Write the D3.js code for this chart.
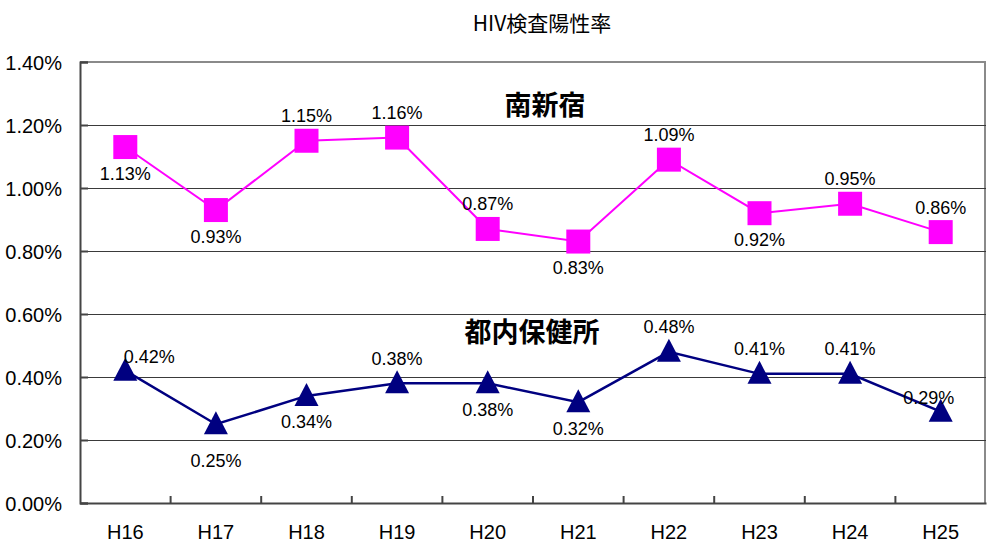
<!DOCTYPE html>
<html>
<head>
<meta charset="utf-8">
<script src="https://cdn.jsdelivr.net/npm/d3@7"></script>
<style>
  body { margin: 0; background: #fff; }
  text { font-family: "Liberation Sans Narrow", "Liberation Sans", Arial, sans-serif; fill: #000; }
  .jp { font-family: "Noto Sans CJK JP", "Noto Sans", sans-serif; }
</style>
</head>
<body>
<div class="chart"></div>
<script>
// data (percent)
var years = ["H16", "H17", "H18", "H19", "H20", "H21", "H22", "H23", "H24", "H25"];
var minamiShinjuku = [1.13, 0.93, 1.15, 1.16, 0.87, 0.83, 1.09, 0.92, 0.95, 0.86];
var tonaiHokenjo = [0.42, 0.25, 0.34, 0.38, 0.38, 0.32, 0.48, 0.41, 0.41, 0.29];
var yTicks = [0, 0.2, 0.4, 0.6, 0.8, 1.0, 1.2, 1.4];

// where each value label sits relative to its marker
var pinkLabelPos = ["below", "below", "above", "above", "above", "below", "above", "below", "above", "above"];
var navyLabelPos = ["aboveRight", "belowFar", "below", "above", "below", "below", "above", "above", "above", "aboveLeft"];

var svgWidth = 991;
var svgHeight = 545;

var margin = { top: 62, right: 5, bottom: 42, left: 80 };
var width = svgWidth - margin.left - margin.right;
var height = svgHeight - margin.top - margin.bottom;

var svg = d3.select(".chart")
  .append("svg")
  .attr("width", svgWidth)
  .attr("height", svgHeight);

var chartGroup = svg.append("g")
  .attr("transform", `translate(${margin.left}, ${margin.top})`);

var xScale = d3.scaleBand()
  .domain(years)
  .range([0, width]);

var yScale = d3.scaleLinear()
  .domain([0, 1.4])
  .range([height, 0]);

var pct = d => d3.format(".2f")(d) + "%";

// frame (top + right, gray)
chartGroup.append("path")
  .attr("d", `M0,0 H${width - 1} V${height}`)
  .attr("fill", "none")
  .attr("stroke", "#8a8a8a")
  .attr("stroke-width", 2);

// gridlines
chartGroup.selectAll(".grid")
  .data(yTicks.filter(d => d > 0 && d < 1.4))
  .enter()
  .append("line")
  .attr("x1", 0)
  .attr("x2", width)
  .attr("y1", d => Math.round(yScale(d)) + 0.5)
  .attr("y2", d => Math.round(yScale(d)) + 0.5)
  .attr("stroke", "#3a3a3a")
  .attr("stroke-width", 1);

// y axis
var leftAxis = d3.axisLeft(yScale)
  .tickValues(yTicks)
  .tickSize(-8)
  .tickPadding(18)
  .tickFormat(pct);

var yAxis = chartGroup.append("g").call(leftAxis);
yAxis.select(".domain").attr("stroke", "#444").attr("stroke-width", 2);
yAxis.selectAll(".tick line").attr("stroke", "#444").attr("stroke-width", 2);
yAxis.selectAll(".tick text")
  .style("font-size", "20px")
  .attr("dy", "0.36em");

// x axis
var bottomAxis = d3.axisBottom(xScale).tickSize(0).tickPadding(22);
var xAxis = chartGroup.append("g")
  .attr("transform", `translate(0, ${height})`)
  .call(bottomAxis);
xAxis.select(".domain").attr("stroke", "#444").attr("stroke-width", 2);
xAxis.selectAll(".tick text").style("font-size", "20px");

// inner ticks at category boundaries
chartGroup.selectAll(".xtick")
  .data(years.slice(1))
  .enter()
  .append("line")
  .attr("x1", d => xScale(d))
  .attr("x2", d => xScale(d))
  .attr("y1", height)
  .attr("y2", height - 7)
  .attr("stroke", "#444")
  .attr("stroke-width", 2);

function cx(i) {
  return xScale(years[i]) + xScale.bandwidth() / 2;
}

var line = d3.line()
  .x((d, i) => cx(i))
  .y(d => yScale(d));

var offsets = {
  above: [0, -25],
  below: [0, 26],
  belowFar: [0, 36],
  aboveRight: [24, -14],
  aboveLeft: [-12, -14]
};

function drawSeries(values, color, lineWidth, markerPath, labelPos) {
  chartGroup.append("path")
    .datum(values)
    .attr("d", line)
    .attr("fill", "none")
    .attr("stroke", color)
    .attr("stroke-width", lineWidth);

  chartGroup.selectAll(null)
    .data(values)
    .enter()
    .append("path")
    .attr("transform", (d, i) => `translate(${cx(i)}, ${yScale(d)})`)
    .attr("d", markerPath)
    .attr("fill", color);

  chartGroup.selectAll(null)
    .data(values)
    .enter()
    .append("text")
    .attr("x", (d, i) => cx(i) + offsets[labelPos[i]][0])
    .attr("y", (d, i) => yScale(d) + offsets[labelPos[i]][1])
    .attr("dy", "0.36em")
    .attr("text-anchor", "middle")
    .style("font-size", "18px")
    .text(pct);
}

var square = "M-12,-12H12V12H-12Z";
var triangle = "M0,-13L12,10H-12Z";

drawSeries(minamiShinjuku, "#ff00ff", 2, square, pinkLabelPos);
drawSeries(tonaiHokenjo, "#000080", 2.5, triangle, navyLabelPos);

// series names
chartGroup.append("text")
  .attr("class", "jp")
  .attr("x", 545 - margin.left)
  .attr("y", 105 - margin.top)
  .attr("dy", "0.36em")
  .attr("text-anchor", "middle")
  .style("font-size", "27px")
  .style("font-weight", "bold")
  .text("南新宿");

chartGroup.append("text")
  .attr("class", "jp")
  .attr("x", 532 - margin.left)
  .attr("y", 332 - margin.top)
  .attr("dy", "0.36em")
  .attr("text-anchor", "middle")
  .style("font-size", "27px")
  .style("font-weight", "bold")
  .text("都内保健所");

// title
svg.append("text")
  .attr("class", "jp")
  .attr("x", 542)
  .attr("y", 23)
  .attr("dy", "0.36em")
  .attr("text-anchor", "middle")
  .style("font-size", "21px")
  .text("HIV検査陽性率");
</script>
</body>
</html>
